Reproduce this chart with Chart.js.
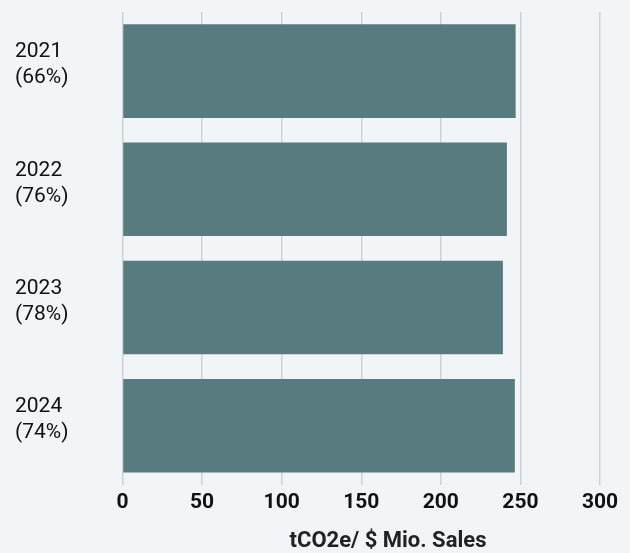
<!DOCTYPE html>
<html>
<head>
<meta charset="utf-8">
<script src="https://cdn.jsdelivr.net/npm/chart.js@4/dist/chart.umd.min.js"></script>
<style>
  html, body { margin: 0; padding: 0; background: #f2f5f7; }
  #wrap { width: 630px; height: 553px; }
</style>
</head>
<body>
<div id="wrap"><canvas id="main_chart"></canvas></div>
<script>
const categories = [['2021', '(66%)'], ['2022', '(76%)'], ['2023', '(78%)'], ['2024', '(74%)']];
const intensity = [247, 241.5, 239, 246.5];
const xTicks = [0, 50, 100, 150, 200, 250, 300];
const axisTitle = 'tCO2e/ $ Mio. Sales';

// the axis title sits right of the plot centre in the original, so draw it ourselves
const offsetTitle = {
    id: 'offsetTitle',
    afterDraw(chart) {
        const ctx = chart.ctx;
        const area = chart.chartArea;
        ctx.save();
        ctx.font = 'bold 22px Roboto';
        ctx.fillStyle = '#222';
        ctx.textAlign = 'center';
        ctx.textBaseline = 'alphabetic';
        ctx.fillText(axisTitle, area.left + (area.right - area.left) * 0.556, chart.height - 6.5);
        ctx.restore();
    }
};

document.addEventListener('DOMContentLoaded', function () {
    new Chart(document.getElementById('main_chart'), {
        type: 'bar',
        data: {
            labels: categories,
            datasets: [{
                label: axisTitle,
                data: intensity,
                backgroundColor: '#587b80',
                borderWidth: 0,
                barPercentage: 0.88,
                categoryPercentage: 0.9
            }]
        },
        options: {
            indexAxis: 'y',
            responsive: true,
            maintainAspectRatio: false,
            animation: false,
            layout: {
                padding: { left: 15, right: 30, top: 12, bottom: 33 }
            },
            scales: {
                x: {
                    min: 0,
                    max: 300,
                    afterBuildTicks: (axis) => { axis.ticks = xTicks.map(v => ({ value: v })); },
                    grid: { color: '#cfd2d4', lineWidth: 1.5, drawTicks: false },
                    border: { display: false },
                    ticks: {
                        color: '#111',
                        padding: 5,
                        font: { family: 'Roboto', size: 21, weight: 'bold' }
                    }
                },
                y: {
                    grid: { display: false },
                    border: { display: false },
                    afterFit: (axis) => {
                        axis.width = 107.5;
                        axis.paddingTop = 0;
                        axis.paddingBottom = 0;
                    },
                    ticks: {
                        color: '#111',
                        crossAlign: 'far',
                        padding: 8,
                        labelOffset: -6,
                        font: { family: 'Roboto', size: 21, lineHeight: 1.24 }
                    }
                }
            },
            plugins: {
                legend: { display: false },
                tooltip: { enabled: false }
            }
        },
        plugins: [offsetTitle]
    });
});
</script>
</body>
</html>
